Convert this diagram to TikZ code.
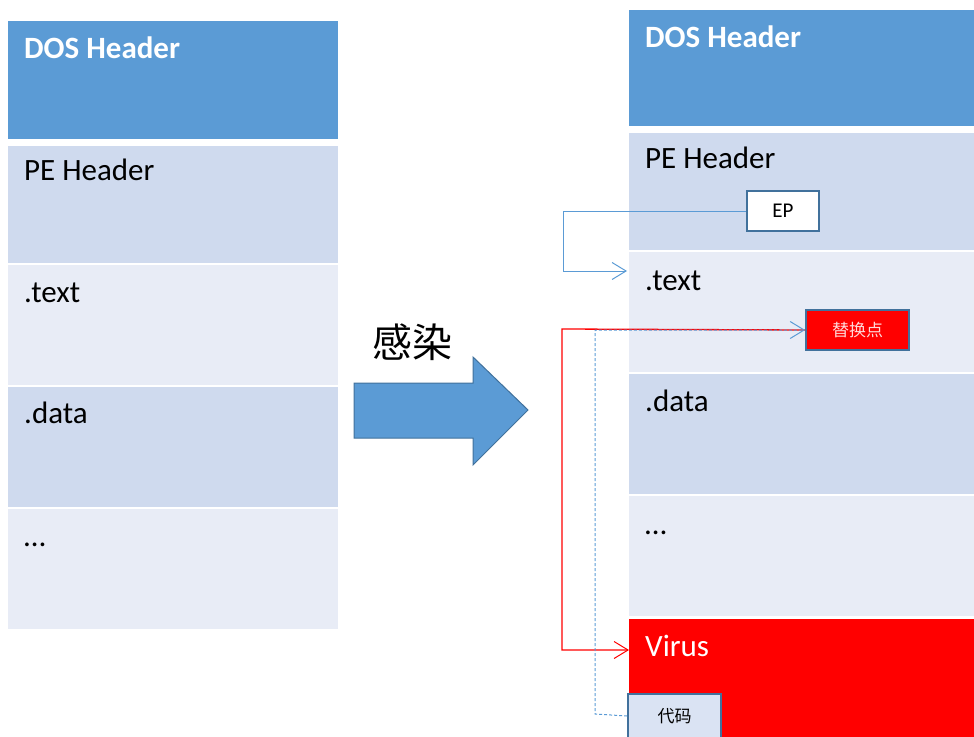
\documentclass[tikz,border=0pt]{standalone}
\usepackage{fontspec}
\setmainfont{Carlito}
\newfontfamily\cjk{Noto Sans CJK SC}
\usetikzlibrary{arrows.meta}
\definecolor{hdrblue}{HTML}{5B9BD5}
\definecolor{rowdark}{HTML}{CFDAEE}
\definecolor{rowlight}{HTML}{E8ECF6}
\definecolor{edgeblue}{HTML}{41719C}
\definecolor{codefill}{HTML}{DAE3F3}
\definecolor{linkblue}{HTML}{5B9BD5}
\tikzset{
  sect/.style={rectangle, draw=none, inner sep=0pt, outer sep=0pt, anchor=north west},
  lsect/.style={sect, minimum width=330pt},
  rsect/.style={sect, minimum width=345pt},
  lbl/.style={anchor=base west, inner sep=0pt, font=\fontsize{31}{36}\selectfont},
  tag/.style={rectangle, draw=edgeblue, line width=1.8pt, inner sep=0pt,
    font=\fontsize{21}{24}\selectfont},
  barb/.style={-{Straight Barb[length=14pt,width=17pt,line width=1pt]}},
}
\begin{document}
\begin{tikzpicture}[x=1pt,y=-1pt]
\useasboundingbox (0,0) rectangle (974,736);

% original file layout
\node[lsect, fill=hdrblue,  minimum height=118pt] (ldos)  at (8,21)  {};
\node[lsect, fill=rowdark,  minimum height=117pt] (lpe)   at (8,146) {};
\node[lsect, fill=rowlight, minimum height=120pt] (ltext) at (8,265) {};
\node[lsect, fill=rowdark,  minimum height=120pt] (ldata) at (8,387) {};
\node[lsect, fill=rowlight, minimum height=120pt] (lrest) at (8,509) {};
\node[lbl, text=white, font=\fontsize{31}{36}\selectfont\bfseries] (ldost) at (24,58) {DOS Header};
\node[lbl] (lpet)   at (24,180) {PE Header};
\node[lbl] (ltextt) at (24,302) {.text};
\node[lbl] (ldatat) at (24,423) {.data};
\node[lbl] (lrestt) at (24,546) {\ldots};

% infection arrow
\path[fill=hdrblue, draw=edgeblue, line width=1pt]
  (354,383) -- (473,383) -- (473,357) -- (528,410) -- (473,465) -- (473,438) -- (354,438) -- cycle;
\node[anchor=base west, inner sep=0pt, font=\cjk\fontsize{40}{44}\selectfont] (infect) at (372,357) {感染};

% infected file layout
\node[rsect, fill=hdrblue,  minimum height=116pt] (rdos)  at (629,10)  {};
\node[rsect, fill=rowdark,  minimum height=117pt] (rpe)   at (629,133) {};
\node[rsect, fill=rowlight, minimum height=120pt] (rtext) at (629,252) {};
\node[rsect, fill=rowdark,  minimum height=120pt] (rdata) at (629,374) {};
\node[rsect, fill=rowlight, minimum height=120pt] (rrest) at (629,496) {};
\node[rsect, fill=red,      minimum height=120pt] (rvir)  at (629,619) {};
\node[lbl, text=white, font=\fontsize{31}{36}\selectfont\bfseries] (rdost) at (645,47) {DOS Header};
\node[lbl] (rpet)   at (645,168) {PE Header};
\node[lbl] (rtextt) at (645,290) {.text};
\node[lbl] (rdatat) at (645,411) {.data};
\node[lbl] (rrestt) at (645,534) {\ldots};
\node[lbl, text=white] (rvirt) at (645,656) {Virus};

% tags
\node[tag, fill=white, minimum width=72pt, minimum height=40pt] (ep) at (783,211) {EP};
\node[tag, fill=red, text=red!15!white, minimum width=103pt, minimum height=40pt,
  font=\cjk\fontsize{17}{20}\selectfont] (swap) at (857.5,330) {替换点};
\node[tag, fill=codefill, minimum width=93pt, minimum height=44pt,
  font=\cjk\fontsize{17}{20}\selectfont] (code) at (674.5,716) {代码};

% link points
\coordinate (epturn) at (563,211);
\coordinate (textin) at (627,271);
\coordinate (redturn) at (562,329);
\coordinate (virin) at (629,650);
\coordinate (codeturn) at (595,714);

% connectors
\draw[linkblue, line width=1pt, barb] (ep.west) -- (epturn) |- (textin);
\draw[red, line width=1.3pt, barb] (swap.west) -- (redturn) |- (virin);
\draw[linkblue, line width=1pt, dash pattern=on 3pt off 2pt, barb]
  (code.west) -- (codeturn) |- (swap.west);
\end{tikzpicture}
\end{document}
